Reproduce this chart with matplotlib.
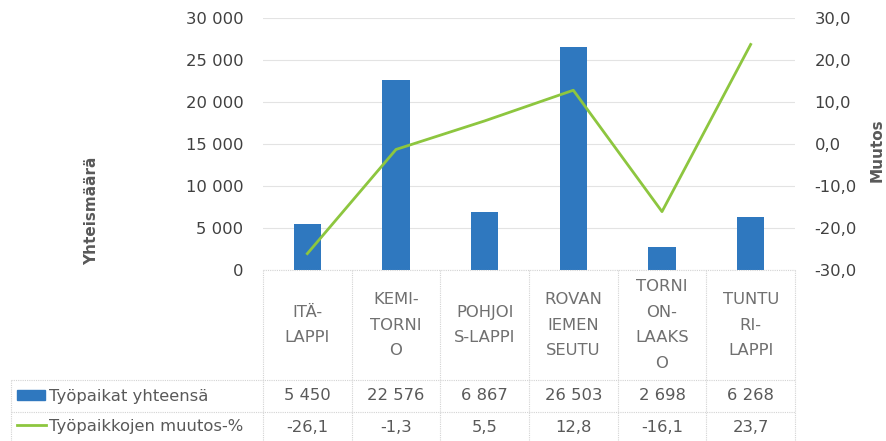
import matplotlib
matplotlib.use("Agg")
import matplotlib.pyplot as plt
from matplotlib.lines import Line2D
from matplotlib.patches import Rectangle

categories = ["ITÄ-\nLAPPI", "KEMI-\nTORNI\nO", "POHJOI\nS-LAPPI", "ROVAN\nIEMEN\nSEUTU",
              "TORNI\nON-\nLAAKS\nO", "TUNTU\nRI-\nLAPPI"]
jobs_total = [5450, 22576, 6867, 26503, 2698, 6268]
change_pct = [-26.1, -1.3, 5.5, 12.8, -16.1, 23.7]
series_names = ["Työpaikat yhteensä", "Työpaikkojen muutos-%"]
left_ticks = [0, 5000, 10000, 15000, 20000, 25000, 30000]
right_ticks = [-30, -20, -10, 0, 10, 20, 30]

W, H = 886, 441
plt.rcParams['font.family'] = ['DejaVu Sans']
fig = plt.figure(figsize=(W / 100, H / 100), dpi=100)

BAR = '#2F78BF'
LINE = '#8DC63F'
TXT = '#404040'
TXT2 = '#595959'
CAT = '#707070'
GRID = '#E3E3E3'
FS = 11.8

x0, x1, ytop, ybot = 263, 795, 18, 270
ax = fig.add_axes([x0 / W, 1 - ybot / H, (x1 - x0) / W, (ybot - ytop) / H])
xs = list(range(len(categories)))
ax.bar(xs, jobs_total, width=0.31, color=BAR, zorder=2)
ax.set_xlim(-0.5, len(categories) - 0.5)
ax.set_ylim(0, 30000)
ax.set_yticks(left_ticks)
ax.set_yticklabels([f"{v:,}".replace(",", " ") for v in left_ticks])
ax.tick_params(axis='y', length=0, pad=14, labelsize=FS, labelcolor=TXT)
ax.set_xticks([])
ax.grid(axis='y', color=GRID, linewidth=0.8, zorder=0)
for s in ax.spines.values():
    s.set_visible(False)

ax2 = ax.twinx()
ax2.plot(xs, change_pct, color=LINE, linewidth=2.0, zorder=3)
ax2.set_ylim(-30, 30)
ax2.set_yticks(right_ticks)
ax2.set_yticklabels([f"{v:.1f}".replace(".", ",") for v in right_ticks])
ax2.tick_params(axis='y', length=0, pad=14, labelsize=FS, labelcolor=TXT)
for s in ax2.spines.values():
    s.set_visible(False)

fig.text(92 / W, 1 - 211 / H, "Yhteismäärä", rotation=90, ha='center', va='center',
         fontsize=11, fontweight='bold', color='#595959')
fig.text(877 / W, 1 - 150 / H, "Muutos", rotation=90, ha='center', va='center',
         fontsize=11, fontweight='bold', color='#595959')

# data table
def fx(px):
    return px / W

def fy(py):
    return 1 - py / H

col_w = (x1 - x0) / len(categories)
bounds = [x0 + i * col_w for i in range(len(categories) + 1)]
row_hdr_bot, row1_bot, row2_bot = 380, 412, 441
lkw = dict(color='#D3D3D3', linewidth=0.8, linestyle=(0, (1, 1)), transform=fig.transFigure)
for b in bounds:
    fig.add_artist(Line2D([fx(b), fx(b)], [fy(ybot), fy(row2_bot)], **lkw))
fig.add_artist(Line2D([fx(11), fx(11)], [fy(row_hdr_bot), fy(row2_bot)], **lkw))
for yy in [row_hdr_bot, row1_bot]:
    fig.add_artist(Line2D([fx(11), fx(x1)], [fy(yy), fy(yy)], **lkw))
fig.add_artist(Line2D([fx(x0), fx(x1)], [fy(ybot), fy(ybot)], **lkw))

for i, c in enumerate(categories):
    cx = (bounds[i] + bounds[i + 1]) / 2
    fig.text(fx(cx), fy(325), c, ha='center', va='center', fontsize=FS,
             color=CAT, linespacing=1.9)
    fig.text(fx(cx), fy(396), f"{jobs_total[i]:,}".replace(",", " "), ha='center',
             va='center', fontsize=FS, color=TXT2)
    fig.text(fx(cx), fy(427), f"{change_pct[i]:.1f}".replace(".", ","), ha='center',
             va='center', fontsize=FS, color=TXT2)

fig.add_artist(Rectangle((fx(17), fy(400)), fx(28), (10 / H), color=BAR,
                         transform=fig.transFigure))
fig.add_artist(Line2D([fx(17), fx(46)], [fy(425), fy(425)], color=LINE, linewidth=2.0,
                      transform=fig.transFigure))
fig.text(fx(49), fy(396), series_names[0], ha='left', va='center', fontsize=FS, color=TXT2)
fig.text(fx(49), fy(427), series_names[1], ha='left', va='center', fontsize=FS, color=TXT2)

fig.savefig("out.png", dpi=100)
